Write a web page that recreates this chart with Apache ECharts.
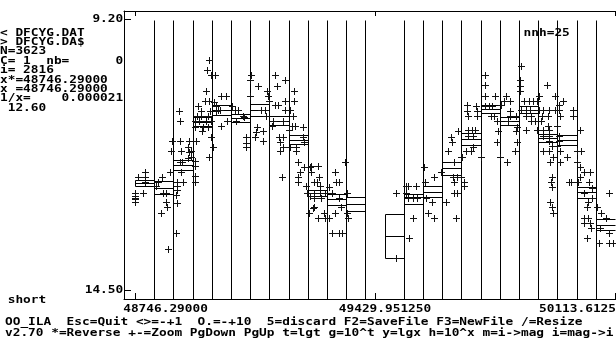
<!DOCTYPE html>
<html>
<head>
<meta charset="utf-8">
<title>DFCYG.DAT</title>
<script src="https://cdn.jsdelivr.net/npm/echarts@6/dist/echarts.min.js"></script>
<style>
    *{margin:0;padding:0;}
    body{background:#fff;}
    #main{width:616px;height:345px;}
</style>
</head>
<body>
<div id="main"></div>
<script>
// axis ticks / labels
var xTicks = [48746.29, 49429.95125, 50113.6125];
var xTickLabels = ['48746.29000', '49429.951250', '50113.6125'];
var yTicks = [9.20, 14.50];
var yTickLabels = ['9.20', '14.50'];

// bin edges (nnh=25)
var binEdges = [48746.29, 48800.98, 48855.68, 48910.37, 48965.06, 49019.75, 49074.45, 49129.14,
    49183.83, 49238.53, 49293.22, 49347.91, 49402.60, 49457.30, 49511.99, 49566.68, 49621.38,
    49676.07, 49730.76, 49785.45, 49840.15, 49894.84, 49949.53, 50004.23, 50058.92, 50113.61];
// full height separators (the one at 49457.30 is not drawn)
var sepEdges = [48800.98, 48855.68, 48910.37, 48965.06, 49019.75, 49074.45, 49129.14, 49183.83,
    49238.53, 49293.22, 49347.91, 49402.60, 49511.99, 49566.68, 49621.38, 49676.07, 49730.76,
    49785.45, 49840.15, 49894.84, 49949.53, 50004.23, 50058.92];

// per bin: mean, mean-sigma, mean+sigma (mag)
var binMean = [12.41, 12.50, 12.06, 11.21, 10.97, 11.14, 10.98, 11.19, 11.56, 12.60, 12.72, 12.82, null,
    13.45, 12.69, 12.58, 12.12, 11.54, 10.96, 11.20, 10.97, 11.52, 11.56, 12.59, 13.22];
var binTop = [12.35, 12.37, 11.96, 11.11, 10.89, 11.06, 10.86, 11.09, 11.47, 12.54, 12.63, 12.69, null,
    13.01, 12.63, 12.46, 11.99, 11.43, 10.89, 11.11, 10.91, 11.44, 11.46, 12.48, 13.12];
var binBot = [12.47, 12.63, 12.16, 11.30, 11.07, 11.22, 11.09, 11.28, 11.64, 12.66, 12.83, 12.95, null,
    13.87, 12.81, 12.69, 12.26, 11.66, 11.03, 11.28, 11.04, 11.61, 11.67, 12.71, 13.33];

// observations [JD, mag]
var obs = [
    [48746.29,12.60],[48746.9,12.67],[48747.7,12.72],[48747.7,12.77],[48747.0,12.70],
    [48773.4,12.19],[48754.3,12.29],[48773.4,12.29],[48773.4,12.38],[48768.5,12.60],
    [48811.2,12.39],[48821.8,12.29],[48825.5,12.60],[48835.2,12.60],[48833.2,12.78],[48838.0,12.88],
    [48820.9,12.99],[48804.7,12.47],[48844.6,12.19],[48849.4,11.79],[48852.3,11.59],[48839.7,13.69],
    [48873.1,11.59],[48901.5,11.59],[48877.9,11.79],[48896.7,11.70],[48901.5,11.81],[48906.4,11.90],
    [48896.7,11.91],[48873.1,12.00],[48878.8,12.00],[48877.9,12.19],[48882.5,12.39],[48865.4,12.39],
    [48865.4,12.47],[48865.4,12.55],[48861.7,12.65],[48865.4,12.79],[48863.7,13.38],[48871.1,11.00],
    [48873.9,11.20],[48906.4,11.79],
    [48920.6,11.59],[48918.6,11.98],[48917.8,12.08],[48918.6,12.27],[48915.8,12.38],[48955.7,10.01],
    [48950.8,10.20],[48961.4,10.29],[48948.0,10.61],[48926.3,10.91],[48944.3,10.81],[48955.7,10.81],
    [48932.9,10.99],[48960.5,10.99],[48923.5,11.10],[48934.9,11.10],[48953.7,11.09],[48915.8,11.20],
    [48930.0,11.20],[48949.1,11.20],[48964.2,11.20],[48918.6,11.31],[48939.4,11.31],[48953.7,11.31],
    [48937.7,11.39],[48961.4,11.50],[48958.5,11.90],
    [48972.8,10.29],[48970.8,10.82],[48977.6,10.99],[48967.1,11.70],[48991.8,10.71],[49006.1,10.71],
    [48984.1,10.98],[48989.8,10.98],[49007.8,11.20],[48991.8,11.30],[48977.6,10.91],
    [49022.0,10.91],[49031.7,10.98],[49041.1,10.98],[49034.6,11.20],[49053.4,11.09],[49058.2,11.11],
    [49063.1,11.51],[49063.1,11.62],[49063.1,11.70],[49072.5,10.70],
    [49077.3,10.29],[49074.4,10.40],[49096.1,10.51],[49122.9,10.61],[49124.6,10.70],[49127.4,10.81],
    [49105.8,10.98],[49117.2,10.98],[49120.0,11.09],[49093.2,11.31],[49091.5,11.41],[49086.7,11.51],
    [49112.3,11.59],[49112.3,11.39],
    [49143.7,10.29],[49151.4,10.51],[49172.2,10.40],[49143.7,10.89],[49153.1,10.89],[49172.2,10.81],
    [49175.0,10.98],[49138.8,11.20],[49167.3,11.20],[49136.0,11.30],[49157.9,11.51],[49167.3,11.51],
    [49159.9,11.61],[49167.3,11.70],[49159.9,11.79],[49165.6,12.29],[49183.6,11.37],
    [49189.2,10.98],[49197.8,10.61],[49197.8,10.81],[49195.8,11.09],[49193.0,11.30],[49202.6,11.30],
    [49224.3,11.31],[49189.2,11.70],[49205.5,11.70],[49205.5,11.79],[49224.3,11.51],[49227.1,11.61],
    [49210.0,11.99],[49216.9,12.19],[49210.0,12.29],[49212.0,12.38],[49229.1,12.10],[49234.0,12.47],
    [49236.8,12.60],
    [49243.4,12.10],[49248.2,12.19],[49243.4,12.67],[49241.4,12.99],[49252.8,12.89],[49248.2,12.08],
    [49267.0,12.08],[49269.9,12.29],[49254.8,12.39],[49264.2,12.39],[49271.9,12.47],[49257.6,12.60],
    [49271.9,12.60],[49286.1,12.60],[49257.6,12.70],[49276.7,12.70],[49254.8,12.88],[49283.3,12.99],
    [49267.0,13.09],[49286.1,13.09],
    [49298.3,13.09],[49345.9,11.99],[49317.4,12.19],[49319.4,12.39],[49328.8,12.39],[49298.3,12.48],
    [49308.0,12.60],[49328.8,12.70],[49333.7,12.88],[49314.6,12.99],[49308.0,13.38],[49326.8,13.38],
    [49335.4,13.38],
    [49350.8,12.60],[49349.6,12.99],[49352.5,13.09],
    [49490.3,12.60],[49488.4,13.88],
    [49518.8,12.47],[49518.8,12.60],[49523.4,12.47],[49547.3,12.47],[49523.4,12.70],[49537.6,12.70],
    [49550.2,12.70],[49537.6,13.09],[49525.4,13.48],
    [49569.0,12.09],[49597.5,12.29],[49573.0,12.39],[49575.8,12.70],[49591.8,12.78],[49580.4,12.99],
    [49599.4,13.09],[49618.5,12.19],
    [49632.8,12.78],[49659.3,13.09],[49654.4,11.99],[49665.8,11.39],[49647.0,11.51],[49648.7,11.61],
    [49639.3,11.79],[49651.6,12.29],[49664.1,12.29],[49675.5,12.29],[49654.4,12.39],[49656.4,12.60],
    [49663.0,12.60],[49675.5,11.90],
    [49677.2,11.90],[49684.9,12.39],[49682.9,12.47],[49694.3,11.37],[49706.8,11.37],[49716.2,11.37],
    [49694.3,11.49],[49708.5,11.49],[49687.8,11.79],[49702.0,11.79],[49708.5,11.70],[49730.5,11.90],
    [49692.6,10.89],[49692.6,10.99],[49694.3,11.09],[49718.2,10.91],[49721.1,10.99],[49721.1,11.09],
    [49744.7,10.29],[49741.9,10.50],[49744.7,10.70],[49772.4,10.70],[49741.9,10.91],[49753.3,10.91],
    [49762.7,10.91],[49759.0,11.09],[49768.4,11.09],[49776.9,11.20],[49779.8,11.39],[49776.9,11.61],
    [49786.6,11.90],[49796.9,10.81],[49801.7,10.70],[49815.1,10.81],[49789.4,10.89],[49815.9,11.00],
    [49830.2,11.10],[49813.1,11.10],[49808.2,11.20],[49833.9,11.31],[49830.2,11.39],[49835.0,11.60],
    [49829.3,11.79],[49805.4,11.99],
    [49846.4,10.11],[49843.6,10.40],[49841.6,10.51],[49841.6,10.61],[49853.0,10.81],[49868.1,10.81],
    [49879.5,10.81],[49890.9,10.81],[49846.4,10.98],[49860.7,10.98],[49872.1,10.98],[49858.7,11.09],
    [49874.9,11.09],[49874.9,11.20],[49886.3,11.20],[49860.7,11.38],
    [49903.4,11.20],[49896.6,10.70],[49896.6,10.98],[49907.9,10.98],[49925.0,10.98],[49906.2,11.09],
    [49922.2,11.09],[49890.9,11.38],[49907.9,11.38],[49925.0,11.38],[49922.2,11.30],[49907.9,11.49],
    [49925.0,11.49],[49927.0,11.59],[49934.7,11.69],[49907.9,11.79],[49927.0,11.79],[49936.4,11.90],
    [49929.0,12.00],[49919.3,10.50],[49944.1,10.70],[49941.3,10.98],[49947.8,11.30],[49947.8,11.69],
    [49934.7,12.29],[49931.9,12.39],[49933.6,12.49],[49929.0,12.78],[49934.7,12.88],[49936.4,12.99],
    [49955.5,10.89],[49964.9,10.81],[49953.5,10.98],[49957.5,11.09],[49953.5,11.49],[49955.5,11.59],
    [49957.5,11.79],[49957.5,12.00],[49977.5,11.90],[49993.4,10.98],[49993.4,11.09],[49982.0,12.39],
    [49986.9,12.39],
    [50004.8,11.79],[50017.3,11.79],[50015.3,11.38],[50004.8,11.99],[50012.5,12.09],[50023.9,12.19],
    [50041.0,12.19],[50012.5,12.29],[50007.7,12.39],[50039.0,12.39],[50048.7,12.50],[50026.7,12.60],
    [50047.5,12.70],[50036.1,12.78],[50033.3,12.88],[50026.7,13.09],[50036.1,13.09],[50026.7,13.19],
    [50043.0,13.19],[50045.8,13.28],[50034.4,13.48],
    [50061.8,12.88],[50074.3,12.99],[50095.9,12.60],[50086.6,13.09],[50071.5,13.28],[50097.9,13.38],
    [50067.5,13.58],[50097.9,13.58],[50107.3,13.58]
];

var infoLines = ['< DFCYG.DAT', '> DFCYG.DA$', 'N=3623', 'C= 1  nb=      0', 'i= 2816',
    'x*=48746.29000', 'x =48746.29000', '1/x=    0.000021', ' 12.60'];
var helpLines = ['OO_ILA  Esc=Quit <>=-+1  O.=-+10  5=discard F2=SaveFile F3=NewFile /=Resize',
    'v2.70 *=Reverse +-=Zoom PgDown PgUp t=lgt g=10^t y=lgx h=10^x m=i->mag i=mag->i'];

// DOS style text: 7.7px character cells
var CELL = 7.7;
var FONT = 'bold 10px "DejaVu Sans Mono"';
var SX = CELL / 6.02;

var myChart = echarts.init(document.getElementById('main'));

function crisp(v){ return Math.floor(v) + 0.5; }

var binRows = [];
for (var i = 0; i < binMean.length; i++) {
    if (binMean[i] === null) continue;
    binRows.push([binEdges[i], binEdges[i + 1], binTop[i], binMean[i], binBot[i]]);
}

function txt(s, col, y, dx){
    return {type:'text', x: col * CELL + (dx || 0), y: y, scaleX: SX, silent: true,
        style:{text: s, font: FONT, fill: '#000', align: 'left', verticalAlign: 'middle',
            textAlign: 'left', textVerticalAlign: 'middle'}};
}
var graphics = [];
for (var k = 0; k < infoLines.length; k++) graphics.push(txt(infoLines[k], 0, 33 + k * 9.4));
graphics.push(txt(yTickLabels[0], 16 - yTickLabels[0].length, 19));
graphics.push(txt(yTickLabels[1], 16 - yTickLabels[1].length, 290));
graphics.push(txt('nnh=25', 68, 33));
graphics.push(txt('short', 1, 300));
graphics.push(txt(xTickLabels[0], 16, 309));
graphics.push(txt(xTickLabels[1], 44, 309));
graphics.push(txt(xTickLabels[2], 70, 309));
graphics.push(txt(helpLines[0], 0, 322, 5));
graphics.push(txt(helpLines[1], 0, 333, 5));

var XMIN = 48713.53, XMAX = 50115.04;
var option = {
    animation: false,
    backgroundColor: '#fff',
    grid: {left: 124, top: 11, right: 0, bottom: 46},
    xAxis: [{
        type: 'value', min: XMIN, max: XMAX, position: 'bottom',
        axisLine: {show: true, onZero: false, lineStyle: {color: '#000', width: 1}},
        axisTick: {show: true, inside: true, length: 6, customValues: xTicks, lineStyle: {color: '#000'}},
        axisLabel: {show: false},
        splitLine: {show: false}
    }, {
        type: 'value', min: XMIN, max: XMAX, position: 'top',
        axisLine: {show: true, onZero: false, lineStyle: {color: '#000', width: 1}},
        axisTick: {show: true, inside: true, length: 5, customValues: xTicks, lineStyle: {color: '#000'}},
        axisLabel: {show: false},
        splitLine: {show: false}
    }],
    yAxis: {
        type: 'value', inverse: true, min: 9.0338, max: 14.6662, position: 'left',
        axisLine: {show: true, onZero: false, lineStyle: {color: '#000', width: 1}},
        axisTick: {show: true, inside: true, length: 7, customValues: yTicks, lineStyle: {color: '#000'}},
        axisLabel: {show: false},
        splitLine: {show: false}
    },
    graphic: graphics,
    series: [{
        // bin separators
        type: 'custom', silent: true, clip: true,
        data: sepEdges.map(function (v) { return [v]; }),
        encode: {x: 0},
        renderItem: function (params, api) {
            var a = api.coord([api.value(0), 9.21]);
            var b = api.coord([api.value(0), 14.6662]);
            var x = crisp(a[0]);
            return {type: 'line', shape: {x1: x, y1: crisp(a[1]), x2: x, y2: b[1]},
                style: {stroke: '#000', lineWidth: 1}};
        }
    }, {
        // bin mean and sigma boxes
        type: 'custom', silent: true, clip: true,
        data: binRows,
        renderItem: function (params, api) {
            var p0 = api.coord([api.value(0), api.value(2)]);
            var p1 = api.coord([api.value(1), api.value(4)]);
            var pm = api.coord([api.value(0), api.value(3)]);
            var x0 = crisp(p0[0]), x1 = crisp(p1[0]);
            var yt = crisp(p0[1]), yb = crisp(p1[1]), ym = crisp(pm[1]);
            var st = {stroke: '#000', lineWidth: 1, fill: null};
            return {type: 'group', children: [
                {type: 'polyline', shape: {points: [[x1, yt], [x0, yt], [x0, yb], [x1, yb]]}, style: st},
                {type: 'line', shape: {x1: x0, y1: ym, x2: x1, y2: ym}, style: st}
            ]};
        }
    }, {
        // observations drawn as '+'
        type: 'custom', silent: true, clip: true,
        data: obs,
        renderItem: function (params, api) {
            var p = api.coord([api.value(0), api.value(1)]);
            var cx = crisp(p[0]), cy = crisp(p[1]);
            var st = {stroke: '#111', lineWidth: 1};
            return {type: 'group', children: [
                {type: 'line', shape: {x1: cx - 3.5, y1: cy, x2: cx + 3.5, y2: cy}, style: st},
                {type: 'line', shape: {x1: cx, y1: cy - 3.5, x2: cx, y2: cy + 3.5}, style: st}
            ]};
        }
    }]
};
myChart.setOption(option);
</script>
</body>
</html>
